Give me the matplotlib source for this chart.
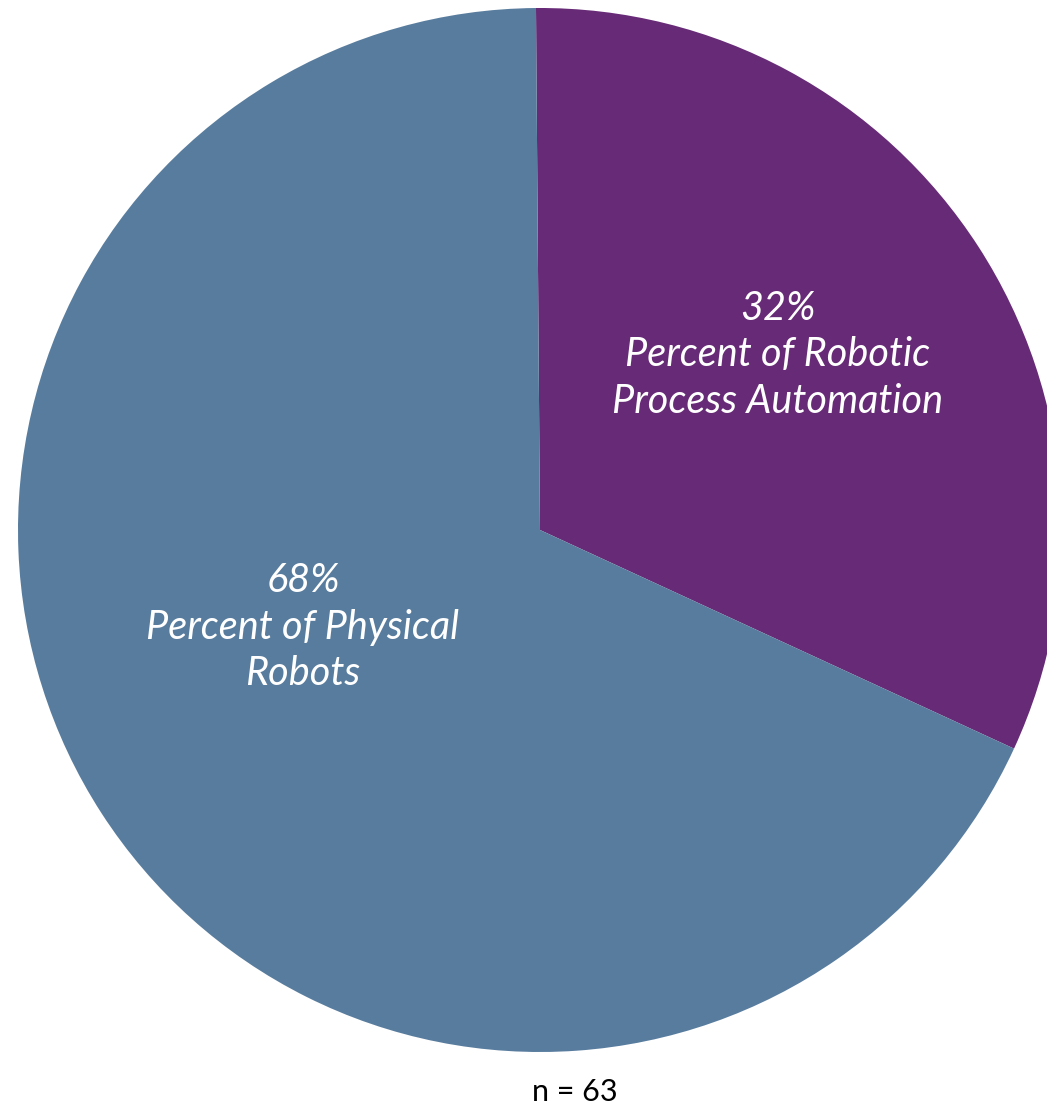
import matplotlib
matplotlib.use("Agg")
import matplotlib.pyplot as plt

# slice shares (percent), purple slice first, drawn clockwise from the top
shares = [32, 68]
labels = ["32%\nPercent of Robotic\nProcess Automation", "68%\nPercent of Physical\nRobots"]
colors = ["#672A76", "#587C9E"]
sample_note = "n = 63"

W, H = 1047, 1108
fig = plt.figure(figsize=(W / 100, H / 100), dpi=100)
ax = fig.add_axes([0, 0, 1, 1])

cx, cy, r = 540, H - 530, 522
wedges, _ = ax.pie(
    shares,
    colors=colors,
    startangle=90.44,
    counterclock=False,
    center=(cx, cy),
    radius=r,
    frame=True,
)
ax.set_xlim(0, W)
ax.set_ylim(0, H)
ax.set_aspect("equal")
ax.axis("off")

# label positions picked by eye from the reference
ax.text(778, H - 355, labels[0], color="white", fontsize=28.5, style="italic",
        family="Lato", ha="center", va="center", linespacing=1.32)
ax.text(303, H - 627, labels[1], color="white", fontsize=28.5, style="italic",
        family="Lato", ha="center", va="center", linespacing=1.32)

fig.text(575 / W, 1 - 1092 / H, sample_note, fontsize=22, family="Lato",
         ha="center", va="center", color="black")

fig.savefig("out.png", dpi=100)
